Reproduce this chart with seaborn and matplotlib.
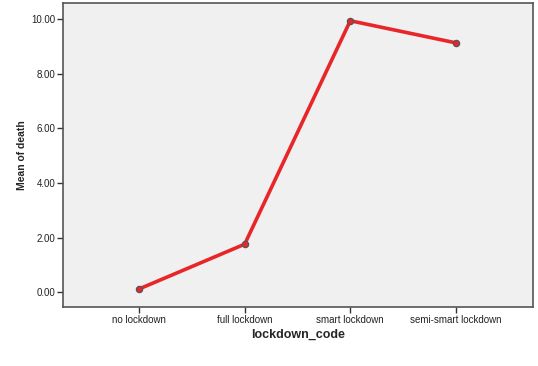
import matplotlib
matplotlib.use("Agg")
import matplotlib.pyplot as plt
import seaborn as sns
import pandas as pd

categories = ["no lockdown", "full lockdown", "smart lockdown", "semi-smart lockdown"]
mean_death = [0.12, 1.76, 9.94, 9.13]
y_ticks = [0.0, 2.0, 4.0, 6.0, 8.0, 10.0]

df = pd.DataFrame({"lockdown_code": categories, "Mean of death": mean_death})

sns.set_style("white")
plt.rcParams["font.family"] = ["Liberation Sans", "DejaVu Sans"]

fig = plt.figure(figsize=(5.38, 3.66), dpi=100)
ax = fig.add_axes([63/538, 59/366, 470/538, 304/366])
ax.set_facecolor("#f0f0f0")

sns.lineplot(data=df, x="lockdown_code", y="Mean of death", ax=ax, sort=False,
             color="#e8262a", linewidth=2.6, marker="o", markersize=4.5,
             markerfacecolor="#e8262a", markeredgecolor="#555555", markeredgewidth=0.9)

ax.set_xlim(-0.72, 3.73)
ax.set_ylim(-0.54, 10.59)
ax.set_yticks(y_ticks)
ax.set_yticklabels([f"{v:.2f}" for v in y_ticks], fontsize=7, color="#222222")
ax.set_xticks(range(len(categories)))
ax.set_xticklabels(categories, fontsize=7, color="#222222")
ax.tick_params(axis="both", direction="out", length=4, width=1, color="#333333", pad=1.5,
               left=True, bottom=True)
for s in ax.spines.values():
    s.set_color("#555555")
    s.set_linewidth(1.2)

ax.set_xlabel("lockdown_code", fontsize=9, fontweight="bold", labelpad=3)
ax.set_ylabel("Mean of death", fontsize=7.5, fontweight="bold", labelpad=3)

fig.savefig("out.png", dpi=100)
